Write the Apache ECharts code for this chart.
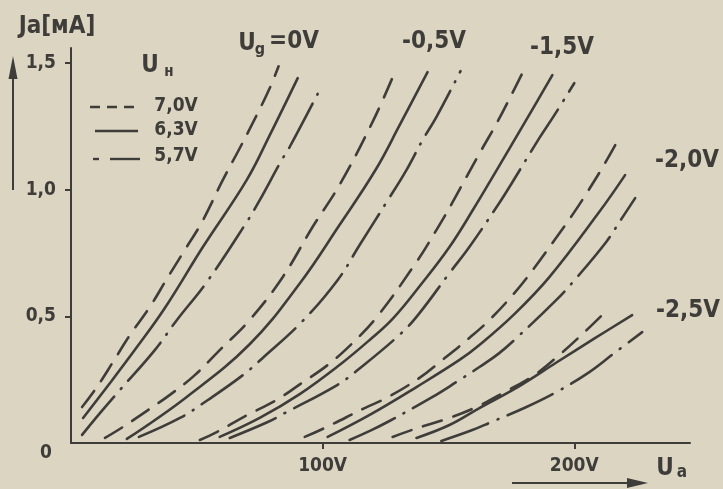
<!DOCTYPE html>
<html><head><meta charset="utf-8">
<script src="https://cdn.jsdelivr.net/npm/echarts@6/dist/echarts.min.js"></script>
<style>html,body{margin:0;padding:0;background:#dcd5c2}#c{width:723px;height:489px}</style>
</head><body><div id="c"></div>
<script>
// Heater voltages (legend) and grid-voltage group labels
const heaterLabels = ['7,0V', '6,3V', '5,7V'];
const groupLabels = ['=0V', '-0,5V', '-1,5V', '-2,0V', '-2,5V'];
const xTickValues = [100, 200];
const yTickValues = [0, 0.5, 1.0, 1.5];

// [Ua (V), Ia (mA)]
// Ug = 0V
const ug0_h70 = [[4.4,0.142],[10.3,0.221],[16.7,0.320],[23.4,0.426],[31.3,0.537],[38.5,0.655],[45.2,0.762],[52.0,0.872],[60.3,1.038],[67.1,1.165],[73.8,1.295],[79.0,1.402],[82.5,1.488]];
const ug0_h63 = [[4.8,0.099],[15.5,0.237],[26.2,0.379],[37.3,0.533],[52.4,0.774],[69.8,1.038],[79.0,1.216],[90.1,1.441]];
const ug0_h57 = [[4.4,0.032],[11.5,0.118],[19.4,0.209],[33.3,0.367],[42.1,0.486],[54.0,0.636],[69.8,0.872],[75.0,0.959],[83.7,1.117],[86.9,1.169],[98.4,1.386]];
// Ug = -0.5V
const ugm05_h70 = [[13.5,0.020],[20.6,0.063],[30.6,0.130],[39.3,0.190],[49.2,0.268],[59.1,0.367],[71.0,0.486],[84.1,0.655],[96.0,0.853],[106.7,1.019],[119.8,1.267],[128.2,1.453]];
const ugm05_h63 = [[22.2,0.016],[46.0,0.182],[71.0,0.390],[90.9,0.630],[106.7,0.861],[121.0,1.078],[130.6,1.255],[141.7,1.465]];
const ugm05_h57 = [[27.0,0.024],[43.3,0.099],[54.4,0.170],[68.3,0.268],[76.2,0.336],[91.7,0.478],[106.0,0.644],[114.7,0.782],[125.4,0.951],[133.3,1.078],[139.7,1.196],[145.2,1.287],[154.8,1.469]];
// Ug = -1.5V
const ugm15_h70 = [[51.2,0.012],[57.9,0.043],[70.2,0.111],[81.7,0.170],[91.7,0.237],[102.0,0.308],[111.9,0.395],[121.8,0.501],[137.3,0.715],[145.2,0.841],[151.6,0.950],[157.1,1.050],[163.1,1.157],[169.4,1.267],[175.4,1.382],[179.4,1.461]];
const ugm15_h63 = [[59.1,0.024],[75.0,0.099],[90.9,0.193],[106.7,0.308],[118.7,0.407],[127.8,0.490],[139.0,0.625],[150.4,0.774],[160.0,0.925],[169.0,1.075],[180.0,1.260],[191.3,1.453]];
const ugm15_h57 = [[63.1,0.020],[78.2,0.083],[84.9,0.118],[105.6,0.228],[113.9,0.288],[131.3,0.434],[138.5,0.513],[150.4,0.671],[158.3,0.774],[170.2,0.948],[175.4,1.030],[186.1,1.204],[192.1,1.295],[200.0,1.421]];
// Ug = -2.0V
const ugm20_h70 = [[92.9,0.024],[101.6,0.063],[116.7,0.138],[125.4,0.178],[138.5,0.257],[147.6,0.328],[158.3,0.415],[166.3,0.486],[176.2,0.592],[184.1,0.691],[192.1,0.801],[199.2,0.900],[205.2,0.991],[211.1,1.086],[216.7,1.184]];
const ugm20_h63 = [[102.0,0.024],[118.7,0.111],[137.3,0.221],[154.4,0.328],[162.3,0.387],[176.2,0.509],[190.1,0.655],[209.9,0.912],[220.2,1.058]];
const ugm20_h57 = [[110.7,0.012],[119.4,0.051],[125.8,0.083],[143.7,0.182],[153.2,0.241],[162.3,0.300],[170.2,0.355],[177.4,0.418],[192.9,0.565],[200.8,0.651],[212.7,0.794],[217.9,0.872],[224.2,0.967]];
// Ug = -2.5V
const ugm25_h70 = [[127.8,0.024],[137.7,0.059],[149.2,0.095],[161.1,0.142],[173.0,0.205],[184.1,0.268],[194.0,0.347],[202.8,0.426],[213.1,0.525]];
const ugm25_h63 = [[137.3,0.020],[150.4,0.071],[162.3,0.138],[178.2,0.225],[192.9,0.318],[207.9,0.412],[223.0,0.505]];
const ugm25_h57 = [[147.2,0.008],[159.5,0.051],[167.1,0.083],[181.0,0.142],[192.9,0.201],[206.0,0.280],[215.9,0.355],[227.0,0.438]];

const groups = [
  [ug0_h70, ug0_h63, ug0_h57],
  [ugm05_h70, ugm05_h63, ugm05_h57],
  [ugm15_h70, ugm15_h63, ugm15_h57],
  [ugm20_h70, ugm20_h63, ugm20_h57],
  [ugm25_h70, ugm25_h63, ugm25_h57]
];

const INK = '#3e3d3a';
const FF = '"DejaVu Sans Condensed", "Liberation Sans Narrow", "DejaVu Sans", sans-serif';
const lineTypes = [[20, 12], 'solid', [50, 10, 1, 10]];

const series = [];
groups.forEach((g, gi) => {
  g.forEach((data, hi) => {
    series.push({
      type: 'line', name: groupLabels[gi] + ' ' + heaterLabels[hi],
      data: data, smooth: 0.4, symbol: 'none', silent: true,
      lineStyle: { color: INK, width: 2.6, type: lineTypes[hi], cap: 'round' }
    });
  });
});

function txt(text, x, y, size, align) {
  return { type: 'text', x: x, y: y, silent: true,
    style: { text: text, fill: INK, font: 'bold ' + size + 'px ' + FF, align: align || 'center', verticalAlign: 'middle' } };
}

const graphics = [
  // axis titles
  txt('Ja[мA]', 57, 27, 24),
  { type: 'line', shape: { x1: 13, y1: 190, x2: 13, y2: 70 }, style: { stroke: INK, lineWidth: 2 } },
  { type: 'polygon', shape: { points: [[13, 56], [8.5, 79], [17.5, 79]] }, style: { fill: INK } },
  txt('U', 665, 469, 24), txt('a', 682, 473, 17),
  { type: 'line', shape: { x1: 512, y1: 483, x2: 630, y2: 483 }, style: { stroke: INK, lineWidth: 2 } },
  { type: 'polygon', shape: { points: [[648, 483], [627, 478], [627, 488]] }, style: { fill: INK } },
  // legend
  txt('U', 150, 66, 24), txt('н', 169, 72, 15),
  { type: 'line', shape: { x1: 90, y1: 107, x2: 138, y2: 107 }, style: { stroke: INK, lineWidth: 2.4, lineDash: [10, 7] } },
  { type: 'line', shape: { x1: 95, y1: 131, x2: 138, y2: 131 }, style: { stroke: INK, lineWidth: 2.4 } },
  { type: 'line', shape: { x1: 93, y1: 159, x2: 99, y2: 159 }, style: { stroke: INK, lineWidth: 2.4 } },
  { type: 'line', shape: { x1: 110, y1: 159, x2: 140, y2: 159 }, style: { stroke: INK, lineWidth: 2.4 } },
  txt(heaterLabels[0], 176, 106, 19), txt(heaterLabels[1], 176, 130, 19), txt(heaterLabels[2], 176, 156, 19),
  // group labels
  txt('U', 247, 44, 24), txt('g', 260, 50, 16), txt(groupLabels[0], 294, 42, 24),
  txt(groupLabels[1], 434, 42, 24), txt(groupLabels[2], 562, 48, 24),
  txt(groupLabels[3], 687, 161, 24), txt(groupLabels[4], 688, 311, 24)
];

const chart = echarts.init(document.getElementById('c'), null, { renderer: 'canvas' });
chart.setOption({
  backgroundColor: '#dcd5c2',
  animation: false,
  grid: { left: 71, right: 33, top: 48, bottom: 46 },
  xAxis: {
    type: 'value', min: 0, max: 246, interval: 100,
    axisLine: { show: true, lineStyle: { color: INK, width: 2 } },
    axisTick: { show: true, length: 6, customValues: xTickValues, lineStyle: { color: INK, width: 2 } },
    axisLabel: { customValues: xTickValues, margin: 14, color: INK, fontWeight: 'bold', fontSize: 19, fontFamily: FF, formatter: v => v + 'V' },
    splitLine: { show: false }
  },
  yAxis: {
    type: 'value', min: 0, max: 1.56, interval: 0.5,
    axisLine: { show: true, lineStyle: { color: INK, width: 2 } },
    axisTick: { show: true, length: 6, customValues: [0.5, 1.0, 1.5], lineStyle: { color: INK, width: 2 } },
    axisLabel: { customValues: yTickValues, margin: 15, color: INK, fontWeight: 'bold', fontSize: 19, fontFamily: FF,
      formatter: v => v === 0 ? '{z|0}' : v.toFixed(1).replace('.', ','),
      rich: { z: { padding: [20, 4, 0, 0], color: INK, fontWeight: 'bold', fontSize: 19, fontFamily: FF } } },
    splitLine: { show: false }
  },
  graphic: graphics,
  series: series
});
</script></body></html>
